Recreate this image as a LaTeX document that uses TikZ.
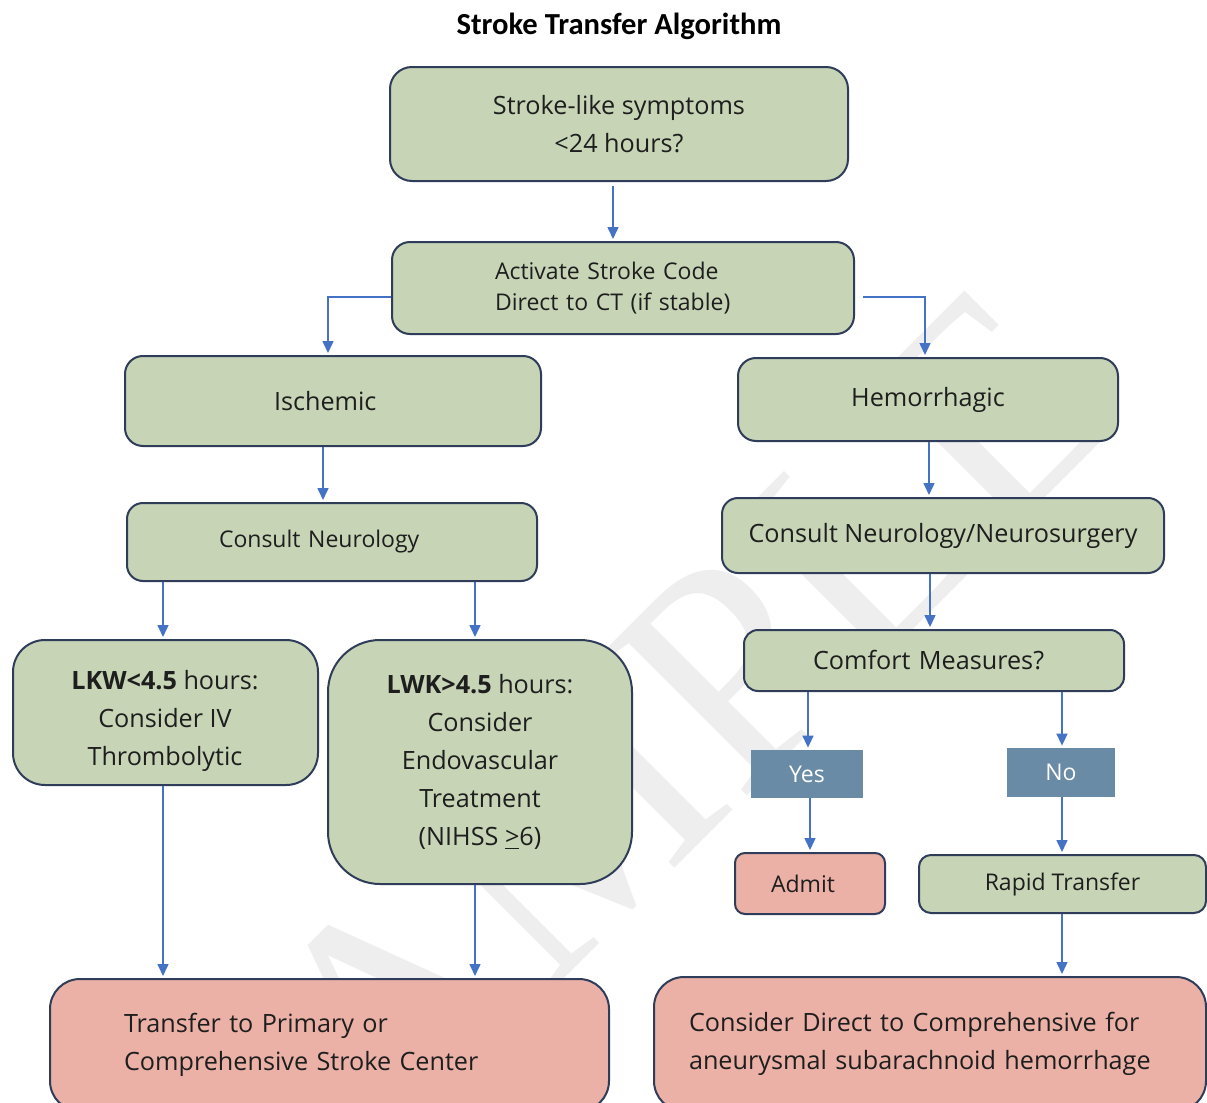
\documentclass[tikz,border=0pt]{standalone}
\usepackage{fontspec}
\setmainfont{Open Sans}
\newfontfamily\titlefont{Carlito}
\newfontfamily\wmfont{Liberation Serif}
\usetikzlibrary{arrows.meta,calc}
\definecolor{boxgreen}{HTML}{C7D5B6}
\definecolor{boxpink}{HTML}{EBB1A7}
\definecolor{boxslate}{HTML}{6A8BA6}
\definecolor{edgecol}{HTML}{2F3D5A}
\definecolor{arrowcol}{HTML}{4472C4}
\definecolor{txtcol}{HTML}{1E1E1E}
\definecolor{wmcol}{HTML}{EEEEEE}
\newcommand\bigtxt{\fontsize{12.6}{19}\selectfont}
\newcommand\smalltxt{\fontsize{11.5}{15.5}\selectfont}
\begin{document}
\begin{tikzpicture}[x=0.5pt,y=-0.5pt,
  gbox/.style={draw=edgecol, line width=1pt, fill=boxgreen, rounded corners=#1, align=center, inner sep=0pt, text=txtcol},
  gbox/.default=9pt,
  pbox/.style={draw=edgecol, line width=1pt, fill=boxpink, rounded corners=#1, inner sep=0pt, text=txtcol},
  pbox/.default=6pt,
  sbox/.style={fill=boxslate, inner sep=0pt, text=white, font=\smalltxt},
  plaintext/.style={inner sep=0pt, align=center, text=txtcol, font=\bigtxt},
  arr/.style={draw=arrowcol, line width=0.8pt, -{Triangle[width=5.5pt,length=6pt]}, shorten >=1pt}
]
\clip (0,0) rectangle (1207,1103);
\fill[white] (0,0) rectangle (1207,1103);
% watermark
\node[rotate=45, text=wmcol, font=\wmfont\fontsize{155}{155}\selectfont, inner sep=0pt] (wm) at (625,775) {SAMPLE};

\node[font=\titlefont\bfseries\fontsize{15.3}{18}\selectfont, text=black] (title) at (619,26) {Stroke Transfer Algorithm};

\node[gbox=11pt, minimum width=229pt, minimum height=57pt, font=\bigtxt] (b1) at (619,124) {Stroke-like symptoms\\<24 hours?};
\node[gbox=9pt, minimum width=231pt, minimum height=46pt, font=\smalltxt, align=left, text width=128pt, inner xsep=51.5pt] (b2) at (623,288) {Activate Stroke Code\\Direct to CT (if stable)};
\node[gbox=9pt, minimum width=208pt, minimum height=45pt, font=\bigtxt, align=left, text width=59pt, inner xsep=74.5pt] (isch) at (333,401) {Ischemic};
\node[gbox=9pt, minimum width=190pt, minimum height=41.5pt, font=\bigtxt] (hem) at (928,399.5) {Hemorrhagic};
\node[gbox=8pt, minimum width=205pt, minimum height=39pt, font=\smalltxt, align=left, text width=113pt, inner xsep=46pt] (cn) at (332,542) {Consult Neurology};
\node[gbox=8pt, minimum width=221pt, minimum height=37.5pt, font=\bigtxt] (cnn) at (943,535.5) {Consult Neurology/Neurosurgery};
\node[gbox=7pt, minimum width=190pt, minimum height=30.5pt, font=\bigtxt, align=left, text width=121pt, inner xsep=34.5pt] (cm) at (934,660.5) {Comfort Measures?};
\node[gbox=16pt, minimum width=152.5pt, minimum height=72.5pt] (lkw) at (165.5,712.5) {};
\node[plaintext] (lkwtext) at (165,721) {\textbf{LKW<4.5} hours:\\Consider IV\\Thrombolytic};
\node[gbox=26pt, minimum width=152pt, minimum height=122pt, font=\bigtxt] (lwk) at (480,762) {\textbf{LWK>4.5} hours:\\Consider\\Endovascular\\Treatment\\(NIHSS \underline{>}6)};
\node[sbox, minimum width=56pt, minimum height=24pt] (yes) at (807,774) {Yes};
\node[sbox, minimum width=54pt, minimum height=24.5pt] (no) at (1061,772.5) {No};
\node[pbox=5pt, minimum width=75pt, minimum height=30.5pt, font=\smalltxt, align=left, text width=39pt, inner xsep=18pt] (admit) at (810,883.5) {Admit};
\node[gbox=6pt, minimum width=143.5pt, minimum height=29pt, font=\smalltxt] (rapid) at (1062.5,884) {Rapid Transfer};
\node[pbox=15pt, text width=205.5pt, inner xsep=37pt, minimum height=66pt, align=left, font=\bigtxt] (transfer) at (329.5,1045) {Transfer to Primary or\\Comprehensive Stroke Center};
\node[pbox=15pt, text width=241pt, inner xsep=17.5pt, minimum height=67pt, align=left, font=\bigtxt] (consider) at (930,1044) {Consider Direct to Comprehensive for\\aneurysmal subarachnoid hemorrhage};

% connectors
\draw[arr, shorten <=2pt] ([xshift=-3pt]b1.south) -- ([xshift=-3pt]b1.south |- b2.north);
\draw[arr] ([yshift=-4.5pt]b2.west) -| ([xshift=-2.5pt]isch.north);
\draw[arr, shorten <=4pt] ([yshift=-4.5pt]b2.east) -| ([xshift=-1.5pt]hem.north);
\draw[arr] ([xshift=-5pt]isch.south) -- ([xshift=-5pt]isch.south |- cn.north);
\draw[arr] ([xshift=0.5pt]hem.south) -- ([xshift=0.5pt]hem.south |- cnn.north);
\draw[arr] ([xshift=-6.5pt]cnn.south) -- ([xshift=-6.5pt]cnn.south |- cm.north);
\draw[arr] ([xshift=-84.5pt]cn.south) -- ([xshift=-84.5pt]cn.south |- lkw.north);
\draw[arr] ([xshift=71.5pt]cn.south) -- ([xshift=71.5pt]cn.south |- lwk.north);
\draw[arr] ([xshift=-1.25pt]lkw.south) -- ([xshift=-1.25pt]lkw.south |- transfer.north);
\draw[arr] ([xshift=-2.5pt]lwk.south) -- ([xshift=-2.5pt]lwk.south |- transfer.north);
\draw[arr] ([xshift=-63pt]cm.south) -- ([xshift=-63pt]cm.south |- yes.north);
\draw[arr] ([xshift=64pt]cm.south) -- ([xshift=64pt]cm.south |- no.north);
\draw[arr] ([xshift=1.5pt]yes.south) -- ([xshift=1.5pt]yes.south |- admit.north);
\draw[arr] ([xshift=0.5pt]no.south) -- ([xshift=0.5pt]no.south |- rapid.north);
\draw[arr] ([xshift=-0.25pt]rapid.south) -- ([xshift=-0.25pt]rapid.south |- consider.north);
\end{tikzpicture}
\end{document}
